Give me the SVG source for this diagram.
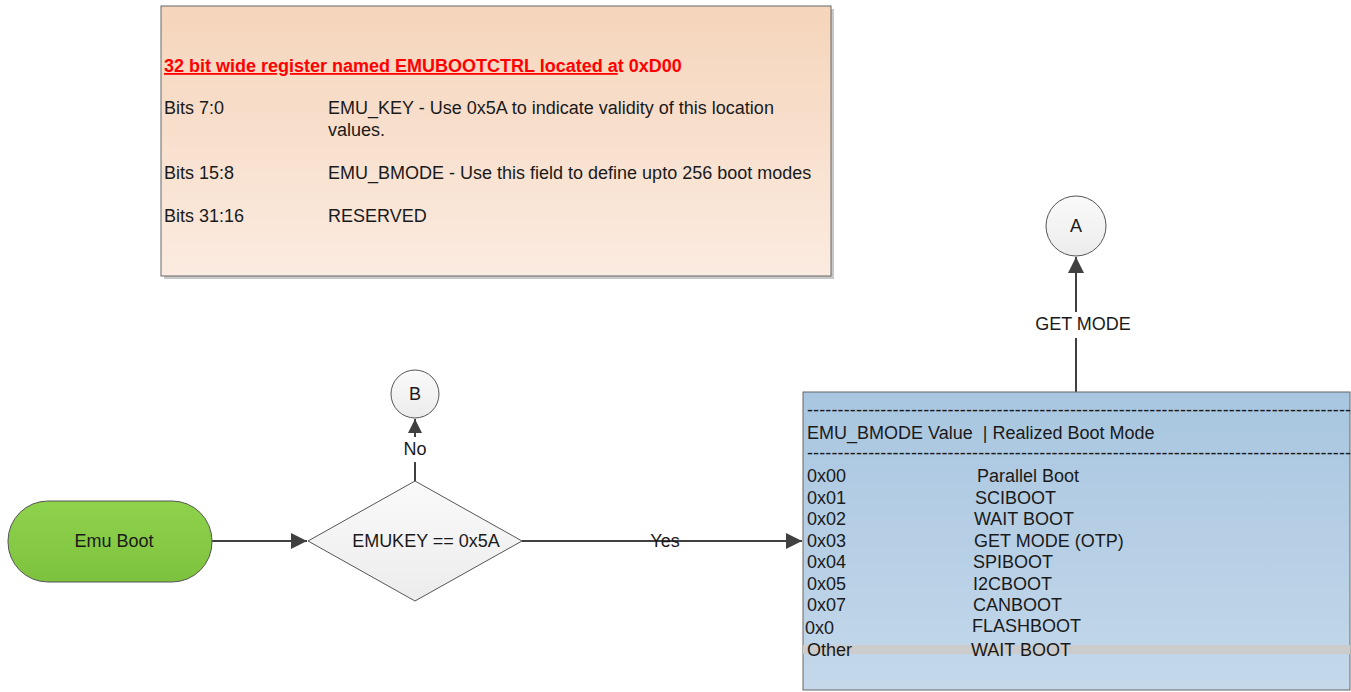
<svg xmlns="http://www.w3.org/2000/svg" width="1351" height="692" viewBox="0 0 1351 692">
<style>
text{font-family:"Liberation Sans",Arial,sans-serif;font-size:18px;fill:#1a1a1a}
.hdr{font-weight:bold;fill:#ff0000}
.ul{text-decoration:underline}
.ln{stroke:#404040;stroke-width:2;fill:none}
.nodeS{stroke:#555;stroke-width:1}
.lbl{text-anchor:middle}
</style>
<defs>
<linearGradient id="gPeach" x1="0" y1="0" x2="0" y2="1"><stop offset="0" stop-color="#f5d5bb"/><stop offset="1" stop-color="#fbebe0"/></linearGradient>
<linearGradient id="gBlue" x1="0" y1="0" x2="0" y2="1"><stop offset="0" stop-color="#a8c6e0"/><stop offset="1" stop-color="#c4d8ea"/></linearGradient>
<linearGradient id="gGreen" x1="0" y1="0" x2="0" y2="1"><stop offset="0" stop-color="#8fd24c"/><stop offset="1" stop-color="#7dc23e"/></linearGradient>
<linearGradient id="gGray" x1="0" y1="0" x2="0" y2="1"><stop offset="0" stop-color="#fafafa"/><stop offset="1" stop-color="#ececec"/></linearGradient>
<marker id="arr" viewBox="0 0 10 10" refX="10" refY="5" markerWidth="14" markerHeight="14" markerUnits="userSpaceOnUse" orient="auto"><path d="M0,0 L10,5 L0,10 z" fill="#404040"/></marker>
<marker id="arrB" viewBox="0 0 10 10" refX="10" refY="5" markerWidth="16" markerHeight="16" markerUnits="userSpaceOnUse" orient="auto"><path d="M0,0 L10,5 L0,10 z" fill="#404040"/></marker>
</defs>

<g id="register">
<rect x="164" y="9" width="670" height="270" fill="#c8c8c8"/>
<rect x="161" y="6" width="670" height="270" fill="url(#gPeach)" stroke="#666" stroke-width="1"/>
<text class="hdr" x="164" y="72"><tspan class="ul">32 bit wide register named EMUBOOTCTRL located a</tspan>t 0xD00</text>
<text x="164" y="114">Bits 7:0</text>
<text x="328" y="114">EMU_KEY - Use 0x5A to indicate validity of this location</text>
<text x="328" y="136">values.</text>
<text x="164" y="179">Bits 15:8</text>
<text x="328" y="179">EMU_BMODE - Use this field to define upto 256 boot modes</text>
<text x="164" y="222">Bits 31:16</text>
<text x="328" y="222">RESERVED</text>
</g>

<g id="connectors">
<line class="ln" x1="212" y1="541" x2="307" y2="541" marker-end="url(#arrB)"/>
<line class="ln" x1="522" y1="541" x2="802" y2="541" marker-end="url(#arrB)"/>
<text class="lbl" x="665" y="547">Yes</text>
<line class="ln" x1="415" y1="481" x2="415" y2="462"/>
<line class="ln" x1="415" y1="437" x2="415" y2="419" marker-end="url(#arr)"/>
<text class="lbl" x="415" y="455">No</text>
<line class="ln" x1="1076" y1="392" x2="1076" y2="338"/>
<line class="ln" x1="1076" y1="312" x2="1076" y2="257" marker-end="url(#arrB)"/>
<text class="lbl" x="1083" y="330">GET MODE</text>
</g>

<g id="emuboot">
<rect x="8" y="501" width="204" height="81" rx="40" ry="40" fill="url(#gGreen)" class="nodeS"/>
<text class="lbl" x="114" y="547">Emu Boot</text>
</g>

<g id="decision">
<polygon points="415,481 522,541 415,601 308,541" fill="url(#gGray)" class="nodeS"/>
<text class="lbl" x="426" y="547">EMUKEY == 0x5A</text>
</g>

<g id="nodeB">
<circle cx="415" cy="394" r="24" fill="url(#gGray)" class="nodeS"/>
<text class="lbl" x="415" y="400">B</text>
</g>

<g id="nodeA">
<circle cx="1076" cy="226" r="30" fill="url(#gGray)" class="nodeS"/>
<text class="lbl" x="1076" y="232">A</text>
</g>

<g id="modes">
<rect x="803" y="392" width="547" height="298" fill="url(#gBlue)" stroke="#666" stroke-width="1"/>
<rect x="803" y="645" width="547" height="9" fill="#cccccc"/>
<text x="807" y="416" textLength="544" lengthAdjust="spacing">-----------------------------------------------------------------------------------------</text>
<text x="807" y="439" xml:space="preserve">EMU_BMODE Value  | Realized Boot Mode</text>
<text x="807" y="459" textLength="544" lengthAdjust="spacing">-----------------------------------------------------------------------------------------</text>
<text x="807" y="482">0x00</text><text x="977" y="482">Parallel Boot</text>
<text x="807" y="504">0x01</text><text x="975" y="504">SCIBOOT</text>
<text x="807" y="525">0x02</text><text x="974" y="525">WAIT BOOT</text>
<text x="807" y="547">0x03</text><text x="974" y="547">GET MODE (OTP)</text>
<text x="807" y="568">0x04</text><text x="973" y="568">SPIBOOT</text>
<text x="807" y="590">0x05</text><text x="973" y="590">I2CBOOT</text>
<text x="807" y="611">0x07</text><text x="973" y="611">CANBOOT</text>
<text x="805" y="634">0x0</text><text x="972" y="632">FLASHBOOT</text>
<text x="807" y="656">Other</text><text x="971" y="656">WAIT BOOT</text>
</g>
</svg>
